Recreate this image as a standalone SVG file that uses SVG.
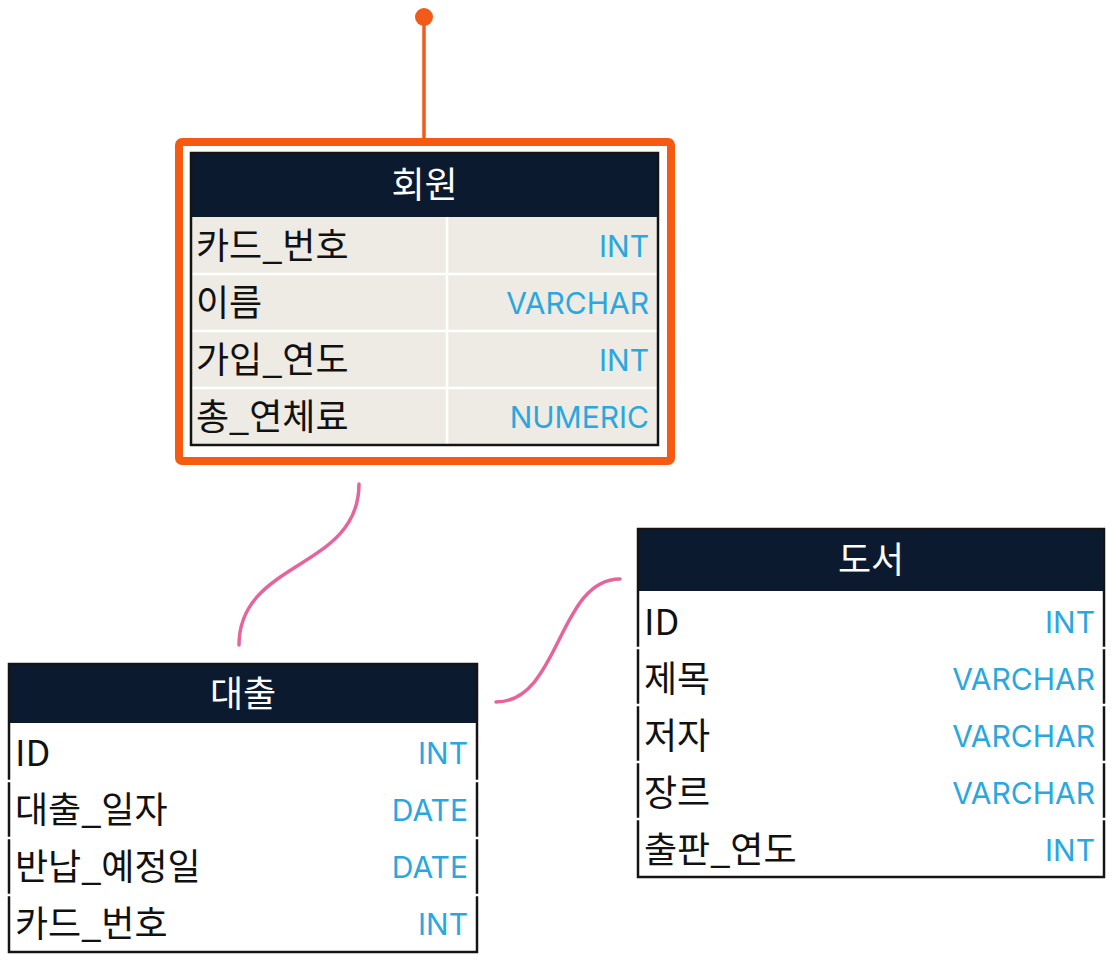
<svg xmlns="http://www.w3.org/2000/svg" width="1118" height="960" viewBox="0 0 1118 960">
<style>
.hdr{fill:#0b1a2f}
.hd{font-family:"Noto Sans CJK KR","Noto Sans",sans-serif;font-size:36px;fill:#ffffff;text-anchor:middle}
.fn{font-family:"Noto Sans CJK KR","Noto Sans",sans-serif;font-size:36px;fill:#111111}
.ty{font-family:Inter,"Liberation Sans",sans-serif;font-size:30px;fill:#2aa7df;text-anchor:end}
.bd{fill:none;stroke:#141414;stroke-width:2.5}
.sep{stroke:#ffffff;stroke-width:2.5}
.conn{fill:none;stroke:#e6649c;stroke-width:3.5;stroke-linecap:round}
</style>
<rect width="1118" height="960" fill="#ffffff"/>
<g id="connectors">
<line x1="424" y1="17" x2="424" y2="140" stroke="#f25a1a" stroke-width="3.5"/>
<circle cx="424" cy="17" r="9" fill="#f25a1a"/>
<path class="conn" d="M359,484 C359,570 239,560 239,645"/>
<path class="conn" d="M620,579 C558,579 560,702 496,702"/>
</g>
<g id="node-member">
<rect x="179" y="142" width="492" height="319" rx="3" fill="#ffffff" stroke="#f65a10" stroke-width="8"/>
<rect x="191" y="217" width="467" height="228" fill="#eeebe4"/>
<rect class="hdr" x="191" y="153" width="467" height="64"/>
<line class="sep" x1="191" y1="274" x2="658" y2="274"/>
<line class="sep" x1="191" y1="331" x2="658" y2="331"/>
<line class="sep" x1="191" y1="388" x2="658" y2="388"/>
<line class="sep" x1="447" y1="217" x2="447" y2="445"/>
<rect class="bd" x="191" y="153" width="467" height="292"/>
<text class="hd" x="424.5" y="198">회원</text>
<text class="fn" x="196" y="259">카드_번호</text><text class="ty" x="649" y="257">INT</text>
<text class="fn" x="196" y="316">이름</text><text class="ty" x="649" y="314">VARCHAR</text>
<text class="fn" x="196" y="373">가입_연도</text><text class="ty" x="649" y="371">INT</text>
<text class="fn" x="196" y="430">총_연체료</text><text class="ty" x="649" y="428">NUMERIC</text>
</g>
<g id="node-loan">
<rect x="9" y="664" width="468" height="288" fill="#ffffff"/>
<rect class="hdr" x="9" y="664" width="468" height="59"/>
<rect class="bd" x="9" y="664" width="468" height="288"/>
<line class="sep" x1="6" y1="781" x2="480" y2="781"/>
<line class="sep" x1="6" y1="838" x2="480" y2="838"/>
<line class="sep" x1="6" y1="895" x2="480" y2="895"/>
<text class="hd" x="243" y="707">대출</text>
<text class="fn" x="15" y="766">ID</text><text class="ty" x="468" y="764">INT</text>
<text class="fn" x="15" y="823">대출_일자</text><text class="ty" x="468" y="821">DATE</text>
<text class="fn" x="15" y="880">반납_예정일</text><text class="ty" x="468" y="878">DATE</text>
<text class="fn" x="15" y="937">카드_번호</text><text class="ty" x="468" y="935">INT</text>
</g>
<g id="node-book">
<rect x="638" y="529" width="466" height="348" fill="#ffffff"/>
<rect class="hdr" x="638" y="529" width="466" height="62"/>
<rect class="bd" x="638" y="529" width="466" height="348"/>
<line class="sep" x1="635" y1="648" x2="1107" y2="648"/>
<line class="sep" x1="635" y1="705" x2="1107" y2="705"/>
<line class="sep" x1="635" y1="762" x2="1107" y2="762"/>
<line class="sep" x1="635" y1="819" x2="1107" y2="819"/>
<text class="hd" x="871" y="573">도서</text>
<text class="fn" x="644" y="635">ID</text><text class="ty" x="1095" y="633">INT</text>
<text class="fn" x="644" y="692">제목</text><text class="ty" x="1095" y="690">VARCHAR</text>
<text class="fn" x="644" y="749">저자</text><text class="ty" x="1095" y="747">VARCHAR</text>
<text class="fn" x="644" y="806">장르</text><text class="ty" x="1095" y="804">VARCHAR</text>
<text class="fn" x="644" y="863">출판_연도</text><text class="ty" x="1095" y="861">INT</text>
</g>
</svg>
